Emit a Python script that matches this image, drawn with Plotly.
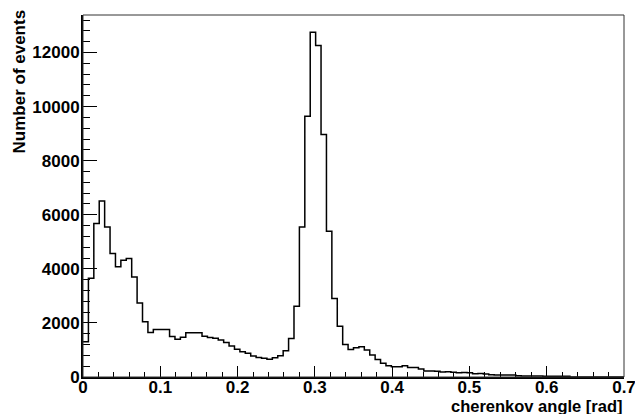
import numpy as np
import plotly.graph_objects as go

# Histogram definition (100 bins from 0 to 0.7 rad)
x_min = 0.0
x_max = 0.7
n_bins = 100

# Bin contents (events per bin)
counts = [
    1300, 3650, 5680, 6510, 5550, 4570, 4075, 4320, 4380, 3700,
    2740, 2040, 1650, 1760, 1760, 1760, 1500, 1400, 1470, 1640,
    1640, 1640, 1510, 1460, 1430, 1370, 1280, 1145, 1030, 935,
    875, 775, 725, 690, 655, 715, 790, 970, 1420, 2620,
    5550, 9640, 12750, 12260, 8970, 5390, 2900, 1880, 1200, 1020,
    1080, 1120, 1000, 810, 650, 505, 420, 380, 380, 420,
    355, 355, 295, 220, 225, 215, 185, 190, 180, 160,
    165, 155, 120, 125, 115, 80, 75, 75, 70, 70,
    45, 40, 40, 38, 40, 30, 32, 28, 30, 28,
    0, 0, 0, 0, 0, 0, 0, 0, 0, 0,
]

x_ticks = [0, 0.1, 0.2, 0.3, 0.4, 0.5, 0.6, 0.7]
y_ticks = [0, 2000, 4000, 6000, 8000, 10000, 12000]

x_title = "cherenkov angle [rad]"
y_title = "Number of events"

edges = np.linspace(x_min, x_max, n_bins + 1)
step_x = list(edges)
step_y = list(counts) + [counts[-1]]
y_top = 1.05 * max(counts)

font_bold = dict(family="Liberation Sans, Arial, sans-serif", size=17, color="black", weight="bold")

fig = go.Figure()
fig.add_trace(go.Scatter(
    x=step_x, y=step_y, mode="lines",
    line=dict(color="black", width=1.5, shape="hv"),
    hoverinfo="skip", showlegend=False,
))

# page body has an 8px margin, so the figure is sized to fit the window
fig.update_layout(
    width=635, height=406,
    margin=dict(l=75, r=17, t=7, b=37),
    paper_bgcolor="white", plot_bgcolor="white",
    showlegend=False,
)

fig.update_xaxes(
    range=[x_min, x_max], tickvals=x_ticks, ticktext=[f"{v:g}" for v in x_ticks],
    showgrid=False, zeroline=False,
    showline=True, linecolor="black", linewidth=2,
    ticks="inside", ticklen=11, tickwidth=1, tickcolor="black",
    minor=dict(dtick=0.02, tick0=0, ticks="inside", ticklen=5.5, tickcolor="black", showgrid=False),
    tickfont=font_bold, ticklabelstandoff=-6,
)
fig.update_yaxes(
    range=[0, y_top], tickvals=y_ticks, ticktext=[str(v) for v in y_ticks],
    showgrid=False, zeroline=False,
    showline=True, linecolor="black", linewidth=2,
    ticks="inside", ticklen=14, tickwidth=1, tickcolor="black",
    minor=dict(dtick=400, tick0=0, ticks="inside", ticklen=7, tickcolor="black", showgrid=False),
    tickfont=font_bold, ticklabelstandoff=-2,
)

# Frame box (top/right thin lines)
fig.add_shape(type="rect", xref="paper", yref="paper", x0=0, x1=1, y0=0, y1=1,
              line=dict(color="#333333", width=1), fillcolor="rgba(0,0,0,0)")

# Axis titles aligned to axis ends like ROOT
fig.add_annotation(text=x_title, xref="paper", yref="paper", x=1.0, y=-0.08,
                   xanchor="right", yanchor="middle", showarrow=False,
                   font=dict(font_bold, size=16.5))
fig.add_annotation(text=y_title, xref="paper", yref="paper", x=-0.117, y=1.02,
                   xanchor="center", yanchor="top", textangle=-90, showarrow=False,
                   font=font_bold)

fig.write_html("out.html")
